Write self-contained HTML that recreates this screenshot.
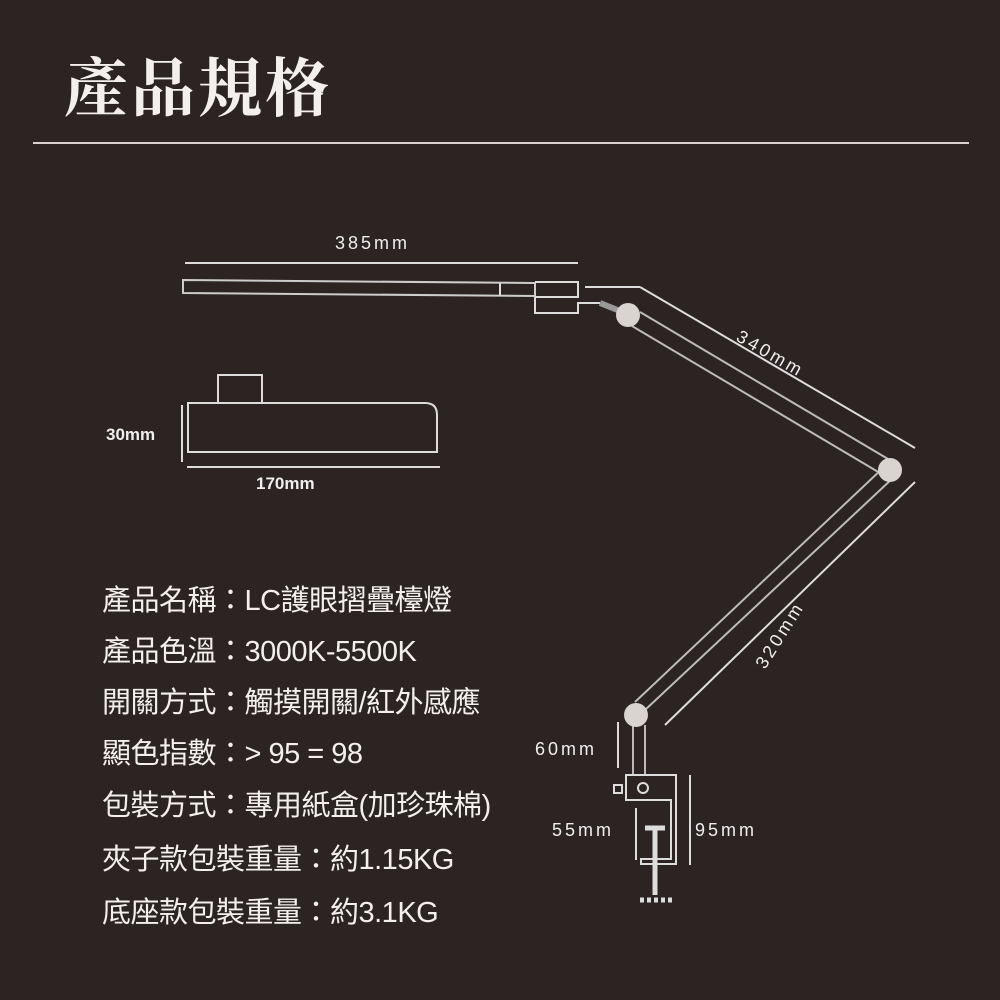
<!DOCTYPE html>
<html><head><meta charset="utf-8"><style>
body{margin:0;background:#2c2422;width:1000px;height:1000px;overflow:hidden;position:relative;font-family:"Liberation Sans","Noto Sans CJK TC",sans-serif;color:#f2efec}
.t{position:absolute;left:64px;top:38px;font-size:64px;font-weight:bold;font-family:"Noto Serif CJK SC","Noto Sans CJK TC",serif;letter-spacing:3px}
.s{position:absolute;left:102px;font-size:29px;white-space:nowrap;letter-spacing:-0.5px}
</style></head><body>
<div class="t">產品規格</div>
<div style="position:absolute;left:33px;top:142px;width:936px;height:2px;background:#d8d2ce"></div>
<svg width="1000" height="1000" style="position:absolute;left:0;top:0" font-family="Liberation Sans, sans-serif" fill="none" stroke="#ddd" stroke-width="2">
<g fill="#eee" stroke="none" font-size="18" letter-spacing="3">
<text x="335" y="249">385mm</text>
<text x="106" y="440" font-weight="bold" letter-spacing="0" font-size="17">30mm</text>
<text x="256" y="489" font-weight="bold" letter-spacing="0" font-size="17">170mm</text>
<text x="735" y="340" transform="rotate(30 735 340)">340mm</text>
<text x="765" y="670" transform="rotate(-58 765 670)">320mm</text>
<text x="535" y="755">60mm</text>
<text x="552" y="836">55mm</text>
<text x="695" y="836">95mm</text>
</g>
<line x1="185" y1="263" x2="578" y2="263"/>
<line x1="182" y1="405" x2="182" y2="462"/>
<line x1="187" y1="467" x2="440" y2="467"/>
<line x1="585" y1="287" x2="640" y2="287"/><line x1="640" y1="287" x2="915" y2="448"/>
<line x1="915" y1="482" x2="665" y2="725"/>
<line x1="618" y1="722" x2="618" y2="768"/>
<line x1="636" y1="808" x2="636" y2="860"/>
<line x1="690" y1="775" x2="690" y2="865"/>
<path d="M183 280 L535 283 L535 296 L183 293 Z" stroke="#ccc"/>
<line x1="500" y1="283" x2="500" y2="296"/>
<path d="M535 282 H578 V297 H535 M535 297 V313 H578 V303 H600"/>
<path d="M600 303 L625 313" stroke-width="6" stroke="#999"/>
<path d="M640 312 L893 462 M632 326 L885 476" stroke="#bbb"/>
<path d="M893 478 L645 710 M883 468 L635 702" stroke="#bbb"/>
<path d="M633 725 V775 M645 725 V775" stroke="#bbb"/>
<circle cx="628" cy="315" r="12" fill="#d9d4d0" stroke="none"/>
<circle cx="890" cy="470" r="12" fill="#d9d4d0" stroke="none"/>
<circle cx="636" cy="715" r="12" fill="#d9d4d0" stroke="none"/>
<path d="M218 375 H262 V403 H218 Z"/>
<path d="M188 403 H425 Q437 403 437 415 V452 H188 Z"/>
<path d="M626 775 H676 V864 H641 V859 H671 V800 H626 Z"/>
<rect x="614" y="785" width="8" height="8"/>
<circle cx="643" cy="788" r="5"/>
<path d="M645 828 H665 M655 828 V895" stroke-width="5"/>
<line x1="640" y1="900" x2="672" y2="900" stroke-width="5" stroke-dasharray="4 3"/>
</svg>
<div class="s" style="top:577px">產品名稱：LC護眼摺疊檯燈</div>
<div class="s" style="top:628px">產品色溫：3000K-5500K</div>
<div class="s" style="top:679px">開關方式：觸摸開關/紅外感應</div>
<div class="s" style="top:730px">顯色指數：&gt; 95 = 98</div>
<div class="s" style="top:782px">包裝方式：專用紙盒(加珍珠棉)</div>
<div class="s" style="top:836px">夾子款包裝重量：約1.15KG</div>
<div class="s" style="top:889px">底座款包裝重量：約3.1KG</div>
</body></html>
